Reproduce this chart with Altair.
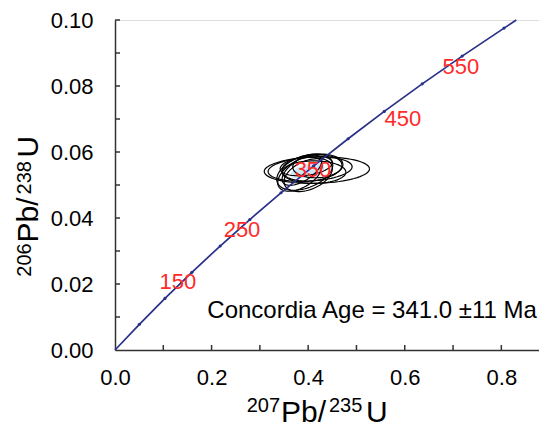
import altair as alt
import pandas as pd
import numpy as np

# Concordia curve (ages in Ma and their isotope ratios)
conc_age = [0, 50, 100, 150, 200, 250, 300, 350, 400, 450, 500, 550, 600, 614]
conc_x = [0.0, 0.0505, 0.1035, 0.1592, 0.2177, 0.2792, 0.3437, 0.4115, 0.4828, 0.5576, 0.6362, 0.7189, 0.8057, 0.8310]
conc_y = [0.0, 0.00779, 0.01563, 0.02354, 0.03151, 0.03954, 0.04764, 0.05580, 0.06402, 0.07230, 0.08065, 0.08906, 0.09754, 0.1000]

# Age labels
lab_text = ["150", "250", "350", "450", "550"]
lab_x = [0.130, 0.263, 0.410, 0.596, 0.716]
lab_y = [0.0206, 0.0364, 0.0545, 0.0700, 0.0858]

# Analyses (error ellipses): centre, half-widths, correlation
ell_x = [0.418, 0.404, 0.393, 0.383, 0.408, 0.400, 0.420, 0.387, 0.412, 0.396]
ell_y = [0.0545, 0.0548, 0.0539, 0.0533, 0.0552, 0.0530, 0.0558, 0.0545, 0.0539, 0.0558]
ell_hx = [0.109, 0.087, 0.058, 0.046, 0.062, 0.050, 0.052, 0.041, 0.066, 0.054]
ell_hy = [0.0040, 0.0037, 0.0055, 0.0052, 0.0040, 0.0050, 0.0036, 0.0046, 0.0034, 0.0030]
ell_rho = [0.1, 0.2, 0.4, 0.5, 0.2, 0.4, 0.1, 0.6, 0.0, 0.3]

# Concordia age ellipse
ca_x, ca_y, ca_hx, ca_hy, ca_rho = 0.399, 0.0543, 0.035, 0.0023, 0.5

x_ticks = [0.1, 0.2, 0.3, 0.4, 0.5, 0.6, 0.7, 0.8]
y_ticks = [0.01, 0.02, 0.03, 0.04, 0.05, 0.06, 0.07, 0.08, 0.09, 0.10]

# Axis title pieces (text, font size, x, y)
xt_text = ["207", "Pb/", "235", "U"]
xt_size = [20, 30, 20, 30]
xt_px = [131.7, 166.0, 214.0, 251.0]
xt_py = [392.3, 402.3, 392.3, 402.3]
yt_text = ["206", "Pb/", "238", "U"]
yt_size = [20, 30, 20, 30]
yt_px = [-84.3, -76.7, -84.3, -76.7]
yt_py = [256.7, 222.4, 174.4, 137.4]

FONT = "Liberation Sans"
XD = [0, 0.878]
YD = [0, 0.10]

xs = alt.Scale(domain=XD, nice=False, zero=False)
ys = alt.Scale(domain=YD, nice=False, zero=False)

conc = pd.DataFrame({"age": conc_age, "x": conc_x, "y": conc_y})

rows = []
for i in range(len(ell_x)):
    s = np.sqrt(1 - ell_rho[i] ** 2)
    for k in range(0, 73):
        t = np.radians(k * 5)
        rows.append({"id": i, "k": k,
                     "x": ell_x[i] + ell_hx[i] * np.cos(t),
                     "y": ell_y[i] + ell_hy[i] * (ell_rho[i] * np.cos(t) + s * np.sin(t))})
ell = pd.DataFrame(rows)

crow = []
s = np.sqrt(1 - ca_rho ** 2)
for k in range(0, 37):
    t = np.radians(k * 5)
    crow.append({"x": ca_x + ca_hx * np.cos(t),
                 "y1": ca_y + ca_hy * (ca_rho * np.cos(t) + s * np.sin(t)),
                 "y2": ca_y + ca_hy * (ca_rho * np.cos(t) - s * np.sin(t))})
ca = pd.DataFrame(crow)

xaxis = alt.Axis(values=[0, 0.2, 0.4, 0.6, 0.8], format=".1f", ticks=False, labelPadding=17,
                 labelFlush=False, labelFontSize=22, labelFont=FONT, labelColor="black",
                 domainColor="#333", domainWidth=1.5, grid=False, title=None)
yaxis = alt.Axis(values=[0, 0.02, 0.04, 0.06, 0.08, 0.10], format=".2f", ticks=False, labelPadding=22,
                 labelFlush=False, labelFontSize=22, labelFont=FONT, labelColor="black",
                 domainColor="#333", domainWidth=1.5, grid=False, title=None)

base_area = alt.Chart(ca).mark_area(color="#cfe6f7", opacity=1).encode(
    x=alt.X("x:Q", scale=xs, axis=xaxis),
    y=alt.Y("y1:Q", scale=ys, axis=yaxis),
    y2="y2:Q",
)

ellipses = alt.Chart(ell).mark_line(color="black", strokeWidth=1.2).encode(
    x=alt.X("x:Q", scale=xs), y=alt.Y("y:Q", scale=ys), detail="id:N", order="k:Q")

line = alt.Chart(conc).mark_line(color="#283088", strokeWidth=1.7).encode(
    x=alt.X("x:Q", scale=xs), y=alt.Y("y:Q", scale=ys), order="age:Q")

pts = alt.Chart(conc[(conc.age > 0) & (conc.age <= 600)]).mark_circle(color="#283088", size=10, opacity=1).encode(
    x=alt.X("x:Q", scale=xs), y=alt.Y("y:Q", scale=ys))

labs = alt.Chart(pd.DataFrame({"t": lab_text, "x": lab_x, "y": lab_y})).mark_text(
    color="#ff2a2a", fontSize=22, font=FONT, align="center", baseline="middle").encode(
    x=alt.X("x:Q", scale=xs), y=alt.Y("y:Q", scale=ys), text="t:N")

note = alt.Chart(pd.DataFrame({"t": ["Concordia Age = 341.0 ±11 Ma"], "x": [0.8737], "y": [0.0118]})).mark_text(
    color="black", fontSize=24, font=FONT, align="right", baseline="middle").encode(
    x=alt.X("x:Q", scale=xs), y=alt.Y("y:Q", scale=ys), text="t:N")

xtk = alt.Chart(pd.DataFrame({"v": x_ticks})).mark_rule(color="#333", strokeWidth=1.5).encode(
    x=alt.X("v:Q", scale=xs), y=alt.value(330), y2=alt.value(325))
ytk = alt.Chart(pd.DataFrame({"v": y_ticks})).mark_rule(color="#333", strokeWidth=1.5).encode(
    y=alt.Y("v:Q", scale=ys), x=alt.value(0), x2=alt.value(5))

xtitle = alt.Chart(pd.DataFrame({"t": xt_text, "s": xt_size, "px": xt_px, "py": xt_py})).mark_text(
    color="black", font=FONT, align="left", baseline="alphabetic").encode(
    x=alt.X("px:Q", scale=None), y=alt.Y("py:Q", scale=None), text="t:N",
    size=alt.Size("s:Q", scale=None, legend=None))
ytitle = alt.Chart(pd.DataFrame({"t": yt_text, "s": yt_size, "px": yt_px, "py": yt_py})).mark_text(
    color="black", font=FONT, align="left", baseline="alphabetic", angle=270).encode(
    x=alt.X("px:Q", scale=None), y=alt.Y("py:Q", scale=None), text="t:N",
    size=alt.Size("s:Q", scale=None, legend=None))

chart = alt.layer(base_area, ellipses, line, pts, labs, note, xtk, ytk, xtitle, ytitle).properties(
    width=424, height=330,
    autosize=alt.AutoSizeParams(type="none"),
    padding={"left": 107, "top": 12, "right": 0, "bottom": 78},
).configure_view(stroke=None).configure(background="white")

chart.save("out.html", embed_options={"renderer": "svg", "actions": False})
